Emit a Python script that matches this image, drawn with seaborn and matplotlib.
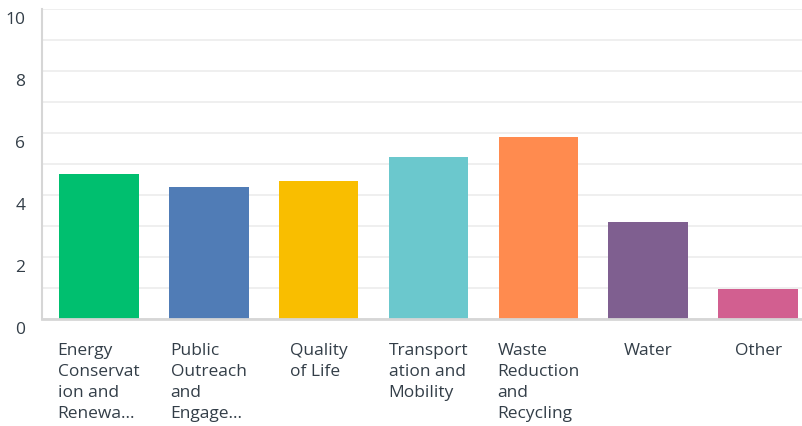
import matplotlib
matplotlib.use("Agg")
import matplotlib.pyplot as plt
import matplotlib.transforms as mtransforms
import seaborn as sns
import pandas as pd

# chart data
categories = [
    "Energy\nConservat\nion and\nRenewa...",
    "Public\nOutreach\nand\nEngage...",
    "Quality\nof Life",
    "Transport\nation and\nMobility",
    "Waste\nReduction\nand\nRecycling",
    "Water",
    "Other",
]
scores = [4.66, 4.25, 4.45, 5.2, 5.86, 3.1, 0.95]
bar_colors = ["#00BF6F", "#507CB6", "#F9BE00", "#6BC8CD", "#FF8B4F", "#7F5F90", "#D25F90"]
y_ticks = [0, 2, 4, 6, 8, 10]

df = pd.DataFrame({"category": categories, "score": scores})

sns.set_style("white")
plt.rcParams["font.family"] = ["Open Sans", "DejaVu Sans"]

fig = plt.figure(figsize=(8.03, 4.27), dpi=100)
ax = fig.add_axes([42 / 803, 1 - 319.5 / 427, 1 - 42 / 803, 310 / 427])

sns.barplot(data=df, x="category", y="score", hue="category", palette=bar_colors,
            legend=False, width=0.727, saturation=1, ax=ax, linewidth=0)

ax.set_xlim(-0.514, 6.405)
ax.set_ylim(0, 10)
ax.set_yticks(y_ticks)
ax.set_yticks(range(1, 10), minor=True)
ax.yaxis.grid(True, which="both", color="#efefef", linewidth=1.4)
ax.set_axisbelow(True)
ax.set_xlabel("")
ax.set_ylabel("")

for side in ["top", "right"]:
    ax.spines[side].set_visible(False)
ax.spines["left"].set_color("#d6d6d6")
ax.spines["left"].set_linewidth(1.5)
ax.spines["bottom"].set_color("#d6d6d6")
ax.spines["bottom"].set_linewidth(2)

ax.tick_params(axis="both", which="both", length=0)
ax.tick_params(axis="y", labelsize=12.5, labelcolor="#333e48", pad=12)
ax.tick_params(axis="x", labelsize=12.5, labelcolor="#333e48", pad=17)

# y labels sit a bit below their grid lines
shift = mtransforms.ScaledTranslation(0, -8.5 / 100, fig.dpi_scale_trans)
for lbl in ax.get_yticklabels():
    lbl.set_transform(lbl.get_transform() + shift)

for lbl in ax.get_xticklabels():
    lbl.set_multialignment("left")
    lbl.set_linespacing(1.42)

fig.savefig("out.png", dpi=100)
